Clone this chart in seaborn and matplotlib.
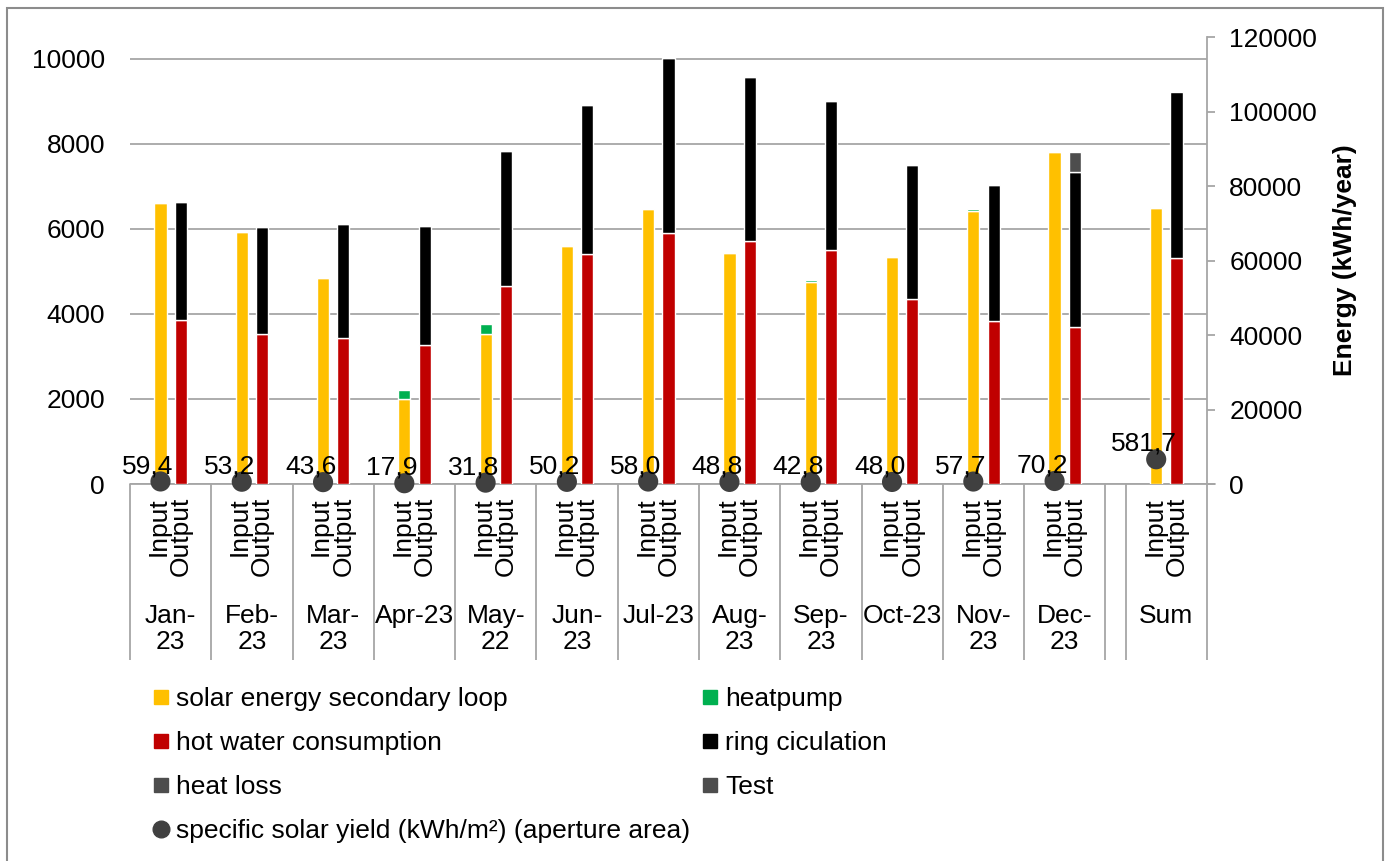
import matplotlib
matplotlib.use("Agg")
import matplotlib.pyplot as plt
import numpy as np
import seaborn as sns
from matplotlib.lines import Line2D
from matplotlib.patches import Rectangle

# monthly energy (left axis, kWh)
months = ["Jan-\n23", "Feb-\n23", "Mar-\n23", "Apr-23", "May-\n22", "Jun-\n23",
          "Jul-23", "Aug-\n23", "Sep-\n23", "Oct-23", "Nov-\n23", "Dec-\n23"]
solar = [6616, 5932, 4855, 1996, 3535, 5586, 6458, 5421, 4761, 5334, 6418, 7818]
heatpump = [0, 0, 0, 226, 236, 0, 0, 0, 47, 0, 40, 0]
hot_water = [3865, 3519, 3441, 3276, 4666, 5397, 5892, 5703, 5491, 4360, 3834, 3684]
ring = [2774, 2514, 2663, 2781, 3159, 3512, 4132, 3859, 3505, 3151, 3196, 3662]
heat_loss = [0, 0, 0, 0, 0, 0, 0, 0, 0, 0, 0, 472]

# yearly sum (right axis, kWh/year)
sum_label = "Sum"
sum_solar = 73991
sum_heatpump = 459
sum_hot_water = 60727
sum_ring = 44391

# specific solar yield (kWh/m2), last one is the sum
yield_values = [59.4, 53.2, 43.6, 17.9, 31.8, 50.2, 58.0, 48.8, 42.8, 48.0, 57.7, 70.2, 581.7]

inner_labels = ["Input", "Output"]

C_SOLAR = "#FFC000"
C_HP = "#00B050"
C_HW = "#C00000"
C_RING = "#000000"
C_LOSS = "#4D4D4D"
C_DOT = "#404040"
C_GRID = "#A6A6A6"

sns.set_theme(style="white")
plt.rcParams["font.family"] = ["Liberation Sans", "DejaVu Sans"]
plt.rcParams["text.color"] = "black"
FS = 19

fig = plt.figure(figsize=(13.88, 8.61), dpi=100)
ax = fig.add_axes([130 / 1388, 1 - 484 / 861, 1077 / 1388, 447 / 861])
ax2 = ax.twinx()
ax3 = ax.twinx()

n_slots = 53
bw = 0.6
x_in = np.arange(12) * 4 + 1.5
x_out = x_in + 1
x_sum_in = 50.5
x_sum_out = 51.5

# monthly stacks
ax.bar(x_in, solar, bw, color=C_SOLAR, zorder=3)
ax.bar(x_in, heatpump, bw, bottom=solar, color=C_HP, zorder=3)
ax.bar(x_out, hot_water, bw, color=C_HW, zorder=3)
ax.bar(x_out, ring, bw, bottom=hot_water, color=C_RING, zorder=3)
ax.bar(x_out, heat_loss, bw, bottom=np.add(hot_water, ring), color=C_LOSS, zorder=3)

# sum stacks on secondary axis
ax2.bar([x_sum_in], [sum_solar], bw, color=C_SOLAR)
ax2.bar([x_sum_in], [sum_heatpump], bw, bottom=[sum_solar], color=C_HP)
ax2.bar([x_sum_out], [sum_hot_water], bw, color=C_HW)
ax2.bar([x_sum_out], [sum_ring], bw, bottom=[sum_hot_water], color=C_RING)

# specific yield dots
dot_x = list(x_in) + [x_sum_in]
sns.scatterplot(x=dot_x, y=yield_values, ax=ax3, s=210, color=C_DOT,
                edgecolor="none", zorder=5, clip_on=False)
for xv, yv in zip(dot_x, yield_values):
    ax3.annotate(f"{yv:.1f}".replace(".", ","), (xv, yv), xytext=(-9, 11),
                 textcoords="offset points", ha="center", va="center",
                 fontsize=FS, color="black", zorder=6, annotation_clip=False)

# axes limits and styling
ymax_left = 10511
for a in (ax, ax3):
    a.set_xlim(0, n_slots)
    a.set_ylim(0, ymax_left)
ax2.set_ylim(0, 120000)
ax3.axis("off")

ax.set_yticks(range(0, 10001, 2000))
ax.yaxis.grid(True, color=C_GRID, lw=1.3)
ax.set_axisbelow(True)
ax.tick_params(axis="y", length=0, pad=18, labelsize=FS, labelcolor="black")
ax.set_xticks([])
for s in ax.spines.values():
    s.set_visible(False)

ax2.set_yticks(range(0, 120001, 20000))
for name, s in ax2.spines.items():
    s.set_visible(name == "right")
ax2.spines["right"].set_color(C_GRID)
ax2.spines["right"].set_linewidth(1.3)
ax2.tick_params(axis="y", length=6, width=1.3, color=C_GRID, pad=10,
                labelsize=FS, labelcolor="black")
ax2.set_xticks([])

# baseline extended to the right tick
ax.plot([0, n_slots + 0.4], [0, 0], color=C_GRID, lw=1.3, clip_on=False, zorder=2)

# multi-level category axis
trans = ax.get_xaxis_transform()
bounds = list(range(0, 49, 4)) + [49, 53]
ax.vlines(bounds, -176 / 447, 0, transform=trans, colors=C_GRID, lw=1.3, clip_on=False)
for xi, xo in list(zip(x_in, x_out)) + [(x_sum_in, x_sum_out)]:
    for xv, lab, dx in zip((xi, xo), inner_labels, (-0.1, 0.0)):
        ax.text(xv + dx, -13 / 447, lab, transform=trans, rotation=90, ha="center",
                va="top", fontsize=FS)
for i, m in enumerate(months):
    ax.text(4 * i + 2, -120 / 447, m, transform=trans, ha="center", va="top",
            fontsize=FS, linespacing=1.1)
ax.text(51, -120 / 447, sum_label, transform=trans, ha="center", va="top", fontsize=FS)

fig.text(1345 / 1388, 1 - 260 / 861, "Energy (kWh/year)", rotation=90, ha="center",
         va="center", fontsize=FS, fontweight="bold")

# legend
def sq(c):
    return Line2D([], [], marker="s", ls="none", markersize=10, color=c)

handles = [sq(C_SOLAR), sq(C_HW), sq(C_LOSS),
           Line2D([], [], marker="o", ls="none", markersize=12, color=C_DOT),
           sq(C_HP), sq(C_RING), sq(C_LOSS)]
labels = ["solar energy secondary loop", "hot water consumption", "heat loss",
          "specific solar yield (kWh/m²) (aperture area)",
          "heatpump", "ring ciculation", "Test"]
fig.legend(handles, labels, ncol=2, loc="upper left",
           bbox_to_anchor=(154 / 1388, 1 - 687 / 861), frameon=False, fontsize=FS,
           handlelength=0.55, handletextpad=0.28, labelspacing=0.76, columnspacing=0.5,
           borderpad=0, borderaxespad=0)

# outer chart border
fig.patches.append(Rectangle((7 / 1388, -0.01), 1376 / 1388, 1.01 - 8 / 861,
                             transform=fig.transFigure, fill=False,
                             edgecolor="#8C8C8C", lw=1.5))

fig.savefig("out.png", dpi=100)
